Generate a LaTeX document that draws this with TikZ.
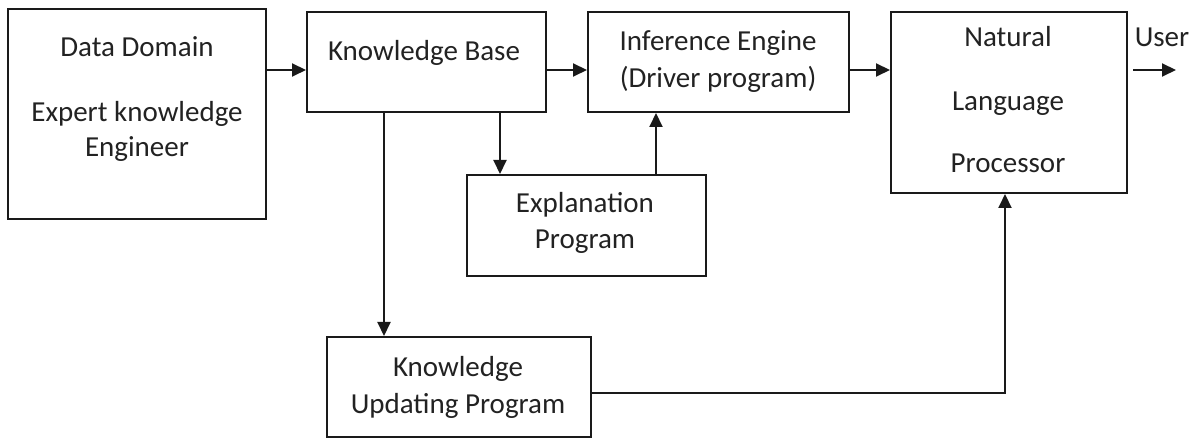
\documentclass[tikz,border=0pt]{standalone}
\usepackage{fontspec}
\setmainfont{Carlito}
\usetikzlibrary{arrows.meta,calc}
\definecolor{ink}{HTML}{1A1A1A}
\definecolor{txt}{HTML}{222222}
\begin{document}
\begin{tikzpicture}[x=1pt,y=-1pt,
  box/.style={draw=ink,line width=2pt,rectangle,inner sep=0pt,
    minimum width=#1},
  lbl/.style={anchor=base,inner sep=0pt,text=txt,font=\fontsize{29}{35}\selectfont},
  arr/.style={draw=ink,line width=2pt,-{Triangle[length=14pt,width=13pt]}}]
\useasboundingbox (0,0) rectangle (1197,438);

% blocks
\node[box=258pt,minimum height=210pt] (data) at (137,114) {};
\node[box=239pt,minimum height=100pt] (kb)   at (426.5,62) {};
\node[box=261pt,minimum height=100pt] (ie)   at (718.5,62) {};
\node[box=236pt,minimum height=181pt] (nlp)  at (1009,102.5) {};
\node[box=239pt,minimum height=101pt] (expl) at (586.5,225.5) {};
\node[box=264pt,minimum height=100pt] (kup)  at (459,387) {};

% block texts
\node[lbl] (data1) at (137,57)  {Data Domain};
\node[lbl] (data2) at (137,122) {Expert knowledge};
\node[lbl] (data3) at (137,157) {Engineer};
\node[lbl] (kb1)   at (424,61)  {Knowledge Base};
\node[lbl] (ie1)   at (718,51)  {Inference Engine};
\node[lbl] (ie2)   at (718,88)  {(Driver program)};
\node[lbl] (nlp1)  at (1008,47) {Natural};
\node[lbl] (nlp2)  at (1008,111) {Language};
\node[lbl] (nlp3)  at (1008,173) {Processor};
\node[lbl] (ex1)   at (585,213) {Explanation};
\node[lbl] (ex2)   at (585,249) {Program};
\node[lbl] (kup1)  at (458,377) {Knowledge};
\node[lbl] (kup2)  at (458,413) {Updating Program};
\node[lbl] (user)  at (1162,47) {User};

% connectors
\draw[arr] ([yshift=-8pt]kb.west -| data.east) -- ([yshift=-8pt]kb.west);
\draw[arr] ([yshift=-8pt]kb.east) -- ([yshift=-8pt]kb.east -| ie.west);
\draw[arr] ([yshift=-8pt]ie.east) -- ([yshift=-8pt]ie.east -| nlp.west);
\coordinate (userstart) at ($([yshift=-8pt]ie.east -| nlp.east)+(5,0)$);
\coordinate (userend) at ($(userstart)+(43,0)$);
\draw[arr] (userstart) -- (userend);
\draw[arr] ([xshift=34pt]expl.north west |- kb.south) -- ([xshift=34pt]expl.north west);
\draw[arr] ([xshift=69pt]ie.south west |- expl.north) -- ([xshift=69pt]ie.south west);
\draw[arr] ([xshift=58pt]kup.north west |- kb.south) -- ([xshift=58pt]kup.north west);
\draw[arr] ([yshift=-6pt]kup.east) -| ([xshift=-4pt]nlp.south);
\end{tikzpicture}
\end{document}
